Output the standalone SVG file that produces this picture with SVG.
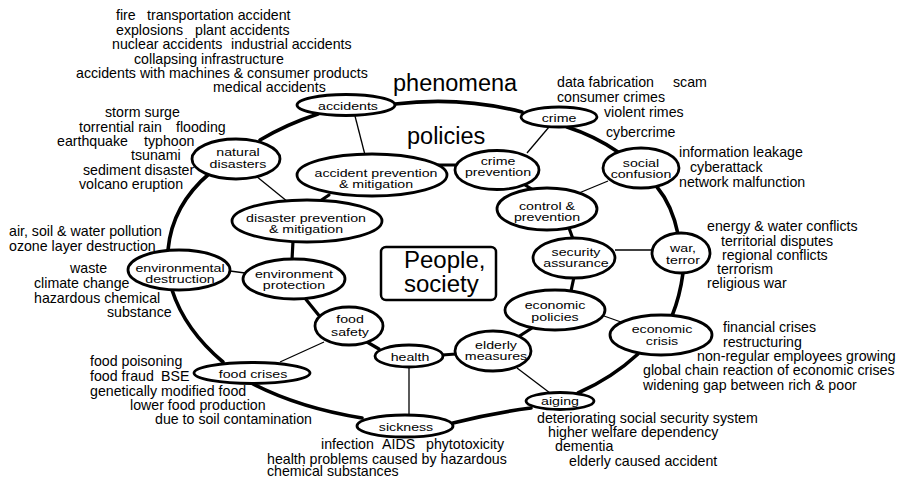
<svg xmlns="http://www.w3.org/2000/svg" width="898" height="478" viewBox="0 0 898 478">
<style>
text{font-family:"Liberation Sans",Arial,sans-serif;font-size:14.2px;fill:#000}
.n ellipse{fill:#fff;stroke:#000;stroke-width:2.8}
.n text{text-anchor:middle}
.ring{fill:none;stroke:#000;stroke-width:3.6;stroke-linecap:round}
.in{fill:none;stroke:#000;stroke-width:3.2;stroke-linecap:round}
.thin{fill:none;stroke:#000;stroke-width:1.3}
.big{font-size:23.5px}
</style>
<rect width="898" height="478" fill="#fff"/>
<g id="connectors">
<path class="ring" d="M395,104 Q460,96 522,112"/>
<path class="ring" d="M567,127 Q595,136 618,152"/>
<path class="ring" d="M657,187 Q672,205 678,234"/>
<path class="ring" d="M683,273 Q680,296 672,316"/>
<path class="ring" d="M638,354 Q612,378 578,393"/>
<path class="ring" d="M531,408 Q492,413 453,423"/>
<path class="ring" d="M362,418 Q300,408 253,384"/>
<path class="ring" d="M223,362 Q185,330 172,290"/>
<path class="ring" d="M168,250 Q172,205 210,173"/>
<path class="ring" d="M260,140 Q287,124 318,114"/>
<path class="in" d="M438,165 L456,165"/>
<path class="in" d="M525,185 L535,191"/>
<path class="in" d="M569,228 L573,239"/>
<path class="in" d="M574,277 L571,291"/>
<path class="in" d="M532,328 L518,337"/>
<path class="in" d="M442,355 L456,354"/>
<path class="in" d="M367,342 L379,349"/>
<path class="in" d="M304,297 L321,318"/>
<path class="in" d="M293,241 L292,260"/>
<path class="in" d="M320,201 L329,195"/>
<path class="thin" d="M355,116 L365,155"/>
<path class="thin" d="M256,176 L288,202"/>
<path class="thin" d="M549,127 L527,153"/>
<path class="thin" d="M608,181 L579,193"/>
<path class="thin" d="M615,250 L653,250"/>
<path class="thin" d="M604,316 L621,322"/>
<path class="thin" d="M517,368 L550,393"/>
<path class="thin" d="M409,367 L409,415"/>
<path class="thin" d="M280,362 L324,342"/>
<path class="thin" d="M230,271 L245,273"/>
</g>
<text class="big" x="393" y="91">phenomena</text>
<text class="big" x="407" y="144">policies</text>
<g id="people">
<rect x="381" y="247" width="115" height="53" rx="5" fill="#fff" stroke="#000" stroke-width="2.5"/>
<text x="404" y="268" style="font-size:24px">People,</text>
<text x="404" y="292" style="font-size:24px">society</text>
</g>
<g id="accidents" class="n"><ellipse cx="346" cy="105" rx="49" ry="10.5"/><text transform="translate(348,110) scale(1,0.82)">accidents</text></g>
<g id="crime" class="n"><ellipse cx="559" cy="117" rx="38" ry="10"/><text transform="translate(559,122) scale(1,0.82)">crime</text></g>
<g id="social-confusion" class="n"><ellipse cx="641" cy="168" rx="38" ry="20"/><text transform="translate(641,167) scale(1,0.82)">social</text><text transform="translate(641,177.5) scale(1,0.82)">confusion</text></g>
<g id="war-terror" class="n"><ellipse cx="681" cy="253" rx="29" ry="20"/><text transform="translate(683,252) scale(1,0.82)">war,</text><text transform="translate(683,264) scale(1,0.82)">terror</text></g>
<g id="economic-crisis" class="n"><ellipse cx="661" cy="335" rx="51" ry="20"/><text transform="translate(662,333) scale(1,0.82)">economic</text><text transform="translate(662,345) scale(1,0.82)">crisis</text></g>
<g id="aiging" class="n"><ellipse cx="560" cy="401" rx="34" ry="8.5"/><text transform="translate(560,405) scale(1,0.82)">aiging</text></g>
<g id="sickness" class="n"><ellipse cx="405" cy="426" rx="48" ry="11"/><text transform="translate(406,431) scale(1,0.82)">sickness</text></g>
<g id="food-crises" class="n"><ellipse cx="252" cy="373" rx="58" ry="10.5"/><text transform="translate(253,378) scale(1,0.82)">food crises</text></g>
<g id="environmental-destruction" class="n"><ellipse cx="179" cy="270" rx="51" ry="20"/><text transform="translate(180,272) scale(1,0.82)">environmental</text><text transform="translate(180,283) scale(1,0.82)">destruction</text></g>
<g id="natural-disasters" class="n"><ellipse cx="236" cy="159" rx="44" ry="20"/><text transform="translate(238,156) scale(1,0.82)">natural</text><text transform="translate(238,168) scale(1,0.82)">disasters</text></g>
<g id="accident-prevention" class="n"><ellipse cx="372" cy="175" rx="75" ry="21"/><text transform="translate(376,177) scale(1,0.82)">accident prevention</text><text transform="translate(376,188) scale(1,0.82)">&amp; mitigation</text></g>
<g id="crime-prevention" class="n"><ellipse cx="497" cy="170" rx="42" ry="19.5"/><text transform="translate(498,165) scale(1,0.82)">crime</text><text transform="translate(498,176) scale(1,0.82)">prevention</text></g>
<g id="control-prevention" class="n"><ellipse cx="547" cy="209" rx="50" ry="21"/><text transform="translate(547,210) scale(1,0.82)">control &amp;</text><text transform="translate(547,221) scale(1,0.82)">prevention</text></g>
<g id="security-assurance" class="n"><ellipse cx="574" cy="258" rx="41" ry="20"/><text transform="translate(576,256) scale(1,0.82)">security</text><text transform="translate(576,267) scale(1,0.82)">assurance</text></g>
<g id="economic-policies" class="n"><ellipse cx="555" cy="310" rx="50" ry="20"/><text transform="translate(555,309) scale(1,0.82)">economic</text><text transform="translate(555,321) scale(1,0.82)">policies</text></g>
<g id="elderly-measures" class="n"><ellipse cx="493" cy="351" rx="38" ry="20"/><text transform="translate(496,349) scale(1,0.82)">elderly</text><text transform="translate(496,360) scale(1,0.82)">measures</text></g>
<g id="health" class="n"><ellipse cx="409" cy="356" rx="34" ry="11"/><text transform="translate(410,361) scale(1,0.82)">health</text></g>
<g id="food-safety" class="n"><ellipse cx="349" cy="326" rx="34" ry="19"/><text transform="translate(350,323) scale(1,0.82)">food</text><text transform="translate(350,336) scale(1,0.82)">safety</text></g>
<g id="environment-protection" class="n"><ellipse cx="294" cy="279" rx="51" ry="20"/><text transform="translate(294,278) scale(1,0.82)">environment</text><text transform="translate(294,289) scale(1,0.82)">protection</text></g>
<g id="disaster-prevention" class="n"><ellipse cx="307" cy="221" rx="75" ry="21"/><text transform="translate(306,222) scale(1,0.82)">disaster prevention</text><text transform="translate(306,233) scale(1,0.82)">&amp; mitigation</text></g>
<g id="labels">
<text y="20"><tspan x="116">fire</tspan><tspan x="147">transportation accident</tspan></text>
<text y="34.5"><tspan x="116">explosions</tspan><tspan x="195">plant accidents</tspan></text>
<text y="49"><tspan x="112">nuclear accidents</tspan><tspan x="231">industrial accidents</tspan></text>
<text x="134" y="63.5">collapsing infrastructure</text>
<text x="76" y="78">accidents with machines &amp; consumer products</text>
<text x="213" y="92">medical accidents</text>
<text x="105" y="117">storm surge</text>
<text y="131.5"><tspan x="79">torrential rain</tspan><tspan x="176">flooding</tspan></text>
<text y="146"><tspan x="57">earthquake</tspan><tspan x="144">typhoon</tspan></text>
<text x="131" y="160">tsunami</text>
<text x="83" y="175">sediment disaster</text>
<text x="79" y="189">volcano eruption</text>
<text x="9" y="236">air, soil &amp; water pollution</text>
<text x="9" y="250.5">ozone layer destruction</text>
<text x="70" y="273">waste</text>
<text x="34" y="288">climate change</text>
<text x="34" y="302.5">hazardous chemical</text>
<text x="107" y="316.5">substance</text>
<text x="90" y="366">food poisoning</text>
<text y="381"><tspan x="90">food fraud</tspan><tspan x="161">BSE</tspan></text>
<text x="90" y="395.5">genetically modified food</text>
<text x="130" y="410">lower food production</text>
<text x="155" y="424">due to soil contamination</text>
<text y="449"><tspan x="321">infection</tspan><tspan x="382">AIDS</tspan><tspan x="426">phytotoxicity</tspan></text>
<text x="267" y="463.5">health problems caused by hazardous</text>
<text x="267" y="476">chemical substances</text>
<text x="537" y="423">deteriorating social security system</text>
<text x="548" y="437">higher welfare dependency</text>
<text x="555" y="451">dementia</text>
<text x="569" y="466">elderly caused accident</text>
<text x="723" y="332">financial crises</text>
<text x="723" y="347">restructuring</text>
<text x="697" y="360.5">non-regular employees growing</text>
<text x="643" y="375">global chain reaction of economic crises</text>
<text x="643" y="390">widening gap between rich &amp; poor</text>
<text x="707" y="231">energy &amp; water conflicts</text>
<text x="721" y="246">territorial disputes</text>
<text x="722" y="260">regional conflicts</text>
<text x="717" y="274">terrorism</text>
<text x="707" y="288">religious war</text>
<text x="679" y="157">information leakage</text>
<text x="690" y="172">cyberattack</text>
<text x="679" y="187">network malfunction</text>
<text y="87"><tspan x="557">data fabrication</tspan><tspan x="673">scam</tspan></text>
<text x="557" y="102">consumer crimes</text>
<text x="604" y="117">violent rimes</text>
<text x="606" y="137">cybercrime</text>
</g>
</svg>
